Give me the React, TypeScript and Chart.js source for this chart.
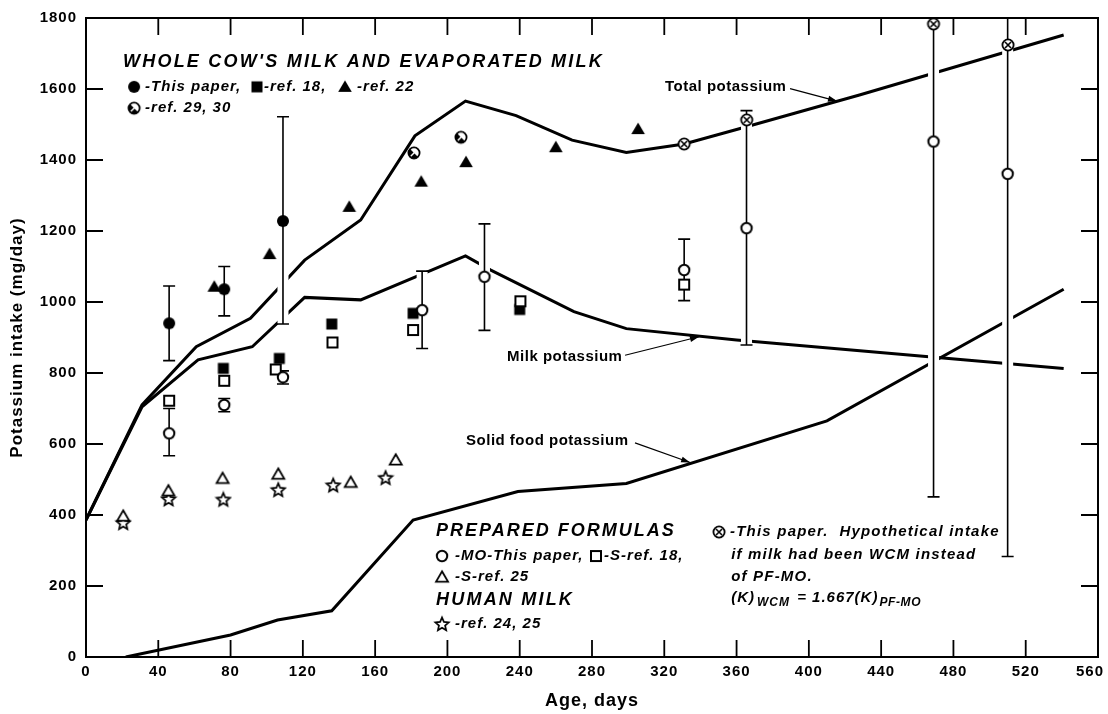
import React, { useEffect, useRef } from 'react';
import { Chart, registerables } from 'chart.js';

Chart.register(...registerables);

// ---------- axes ----------
const X_TICKS = [0, 40, 80, 120, 160, 200, 240, 280, 320, 360, 400, 440, 480, 520, 560];
const Y_TICKS = [0, 200, 400, 600, 800, 1000, 1200, 1400, 1600, 1800];

// ---------- curves ----------
const totalDays = [0, 31, 61, 91, 121, 152, 182, 210, 238, 269, 299, 331, 365, 428, 541];
const totalK = [386, 710, 874, 954, 1118, 1231, 1468, 1566, 1525, 1456, 1421, 1445, 1493, 1583, 1752];

const milkDays = [0, 31, 62, 92, 121, 152, 210, 224, 270, 299, 360, 541];
const milkK = [386, 705, 837, 874, 1013, 1006, 1130, 1090, 973, 925, 893, 813];

const solidDays = [22, 80, 106, 136, 181, 239, 299, 410, 541];
const solidK = [0, 62, 104, 130, 386, 466, 489, 665, 1036];

// ---------- whole cow's milk & evaporated milk ----------
const wcmDays = [46, 76.5, 109];
const wcmK = [940, 1036, 1228];
const wcmLow = [835, 961, 938];
const wcmHigh = [1045, 1100, 1522];

const ref18Days = [76, 107, 136, 181, 240];
const ref18K = [813, 841, 938, 968, 979];

const ref22Days = [71, 101.6, 145.7, 185.5, 210.3, 260, 305.5];
const ref22K = [1043, 1135, 1268, 1339, 1394, 1436, 1487];

const ref2930Days = [181.5, 207.5];
const ref2930K = [1420, 1464];

// ---------- prepared formulas ----------
const moDays = [46, 76.5, 109, 186, 220.5, 331, 365.5, 469, 510];
const moK = [630, 710, 788, 977, 1071, 1090, 1208, 1452, 1361];
const moLow = [567, 691, 769, 869, 920, 1004, 879, 451, 283];
const moHigh = [700, 728, 806, 1087, 1220, 1177, 1539, 2453, 2439];

const sRef18Days = [46, 76.5, 105, 136.4, 181, 240.4, 331];
const sRef18K = [722, 778, 810, 886, 921, 1002, 1049];

const sRef25Days = [20.6, 45.6, 75.6, 106.4, 146.5, 171.4];
const sRef25K = [397, 468, 503, 515, 492, 555];

// ---------- human milk ----------
const humanDays = [20.6, 45.7, 76, 106.4, 136.8, 165.8];
const humanK = [378, 445, 444, 471, 484, 505];

// ---------- hypothetical (WCM instead of PF-MO) ----------
const hypoDays = [331, 365.6, 469, 510.2];
const hypoK = [1445, 1513, 1783, 1724];

const SANS = '"Liberation Sans", Arial, Helvetica, sans-serif';
const BI = (s: number) => `italic bold ${s}px ${SANS}`;
const B = (s: number) => `bold ${s}px ${SANS}`;

type Kind = 'fcircle' | 'ocircle' | 'fsquare' | 'osquare' | 'ftri' | 'otri' | 'star' | 'cx' | 'hatch';

function makeMarker(kind: Kind): HTMLCanvasElement {
  const s = 18;
  const c = document.createElement('canvas');
  c.width = s;
  c.height = s;
  const g = c.getContext('2d')!;
  const m = s / 2;
  g.strokeStyle = '#000';
  g.fillStyle = '#000';
  g.lineWidth = 2;
  const circle = (r: number) => {
    g.beginPath();
    g.arc(m, m, r, 0, Math.PI * 2);
  };
  switch (kind) {
    case 'fcircle':
      circle(6);
      g.fill();
      break;
    case 'ocircle':
      circle(5.2);
      g.fillStyle = '#fff';
      g.fill();
      g.stroke();
      break;
    case 'fsquare':
      g.fillRect(m - 5.5, m - 5.5, 11, 11);
      break;
    case 'osquare':
      g.fillStyle = '#fff';
      g.fillRect(m - 5, m - 5, 10, 10);
      g.strokeRect(m - 5, m - 5, 10, 10);
      break;
    case 'ftri':
      g.beginPath();
      g.moveTo(m, m - 6.5);
      g.lineTo(m + 6.8, m + 5);
      g.lineTo(m - 6.8, m + 5);
      g.closePath();
      g.fill();
      break;
    case 'otri':
      g.lineWidth = 1.8;
      g.beginPath();
      g.moveTo(m, m - 5.8);
      g.lineTo(m + 6, m + 4.6);
      g.lineTo(m - 6, m + 4.6);
      g.closePath();
      g.fillStyle = '#fff';
      g.fill();
      g.stroke();
      break;
    case 'star': {
      g.lineWidth = 1.7;
      g.beginPath();
      for (let i = 0; i < 10; i++) {
        const r = i % 2 === 0 ? 7 : 3.2;
        const a = -Math.PI / 2 + (i * Math.PI) / 5;
        const px = m + r * Math.cos(a);
        const py = m + 0.5 + r * Math.sin(a);
        if (i === 0) g.moveTo(px, py);
        else g.lineTo(px, py);
      }
      g.closePath();
      g.fillStyle = '#fff';
      g.fill();
      g.stroke();
      break;
    }
    case 'cx':
      circle(5.6);
      g.fillStyle = '#fff';
      g.fill();
      g.lineWidth = 1.8;
      g.stroke();
      g.lineWidth = 1.6;
      g.beginPath();
      g.moveTo(m - 3, m - 3);
      g.lineTo(m + 3, m + 3);
      g.moveTo(m + 3, m - 3);
      g.lineTo(m - 3, m + 3);
      g.stroke();
      break;
    case 'hatch':
      circle(5.6);
      g.fillStyle = '#fff';
      g.fill();
      g.save();
      g.clip();
      g.fillStyle = '#000';
      g.beginPath();
      g.moveTo(m - 8, m - 8);
      g.lineTo(m + 8, m + 8);
      g.lineTo(m - 8, m + 8);
      g.closePath();
      g.fill();
      g.restore();
      g.strokeStyle = '#fff';
      g.lineWidth = 1.4;
      g.beginPath();
      g.moveTo(m - 3.5, m + 3.5);
      g.lineTo(m + 3.5, m - 3.5);
      g.stroke();
      g.strokeStyle = '#000';
      g.lineWidth = 1.8;
      circle(5.6);
      g.stroke();
      break;
  }
  return c;
}

const xy = (days: number[], vals: number[]) => days.map((d, i) => ({ x: d, y: vals[i] }));

function txt(ctx: any, s: string, x: number, y: number, font: string, sp: number, align: CanvasTextAlign = 'left') {
  ctx.font = font;
  ctx.letterSpacing = `${sp}px`;
  ctx.textAlign = align;
  ctx.textBaseline = 'middle';
  ctx.fillStyle = '#000';
  ctx.fillText(s, x, y);
  return ctx.measureText(s).width;
}

function arrow(ctx: CanvasRenderingContext2D, x1: number, y1: number, x2: number, y2: number) {
  ctx.save();
  ctx.strokeStyle = '#000';
  ctx.fillStyle = '#000';
  ctx.lineWidth = 1.2;
  ctx.beginPath();
  ctx.moveTo(x1, y1);
  ctx.lineTo(x2, y2);
  ctx.stroke();
  const a = Math.atan2(y2 - y1, x2 - x1);
  const L = 9;
  const W = 3;
  ctx.beginPath();
  ctx.moveTo(x2, y2);
  ctx.lineTo(x2 - L * Math.cos(a) + W * Math.sin(a), y2 - L * Math.sin(a) - W * Math.cos(a));
  ctx.lineTo(x2 - L * Math.cos(a) - W * Math.sin(a), y2 - L * Math.sin(a) + W * Math.cos(a));
  ctx.closePath();
  ctx.fill();
  ctx.restore();
}

function drawBars(chart: any, days: number[], lows: number[], highs: number[], halo: boolean) {
  const { ctx, chartArea: a, scales } = chart;
  const xs = scales.x;
  const ys = scales.y;
  ctx.save();
  ctx.beginPath();
  ctx.rect(a.left, a.top, a.right - a.left, a.bottom - a.top);
  ctx.clip();
  ctx.lineCap = 'butt';
  for (let i = 0; i < days.length; i++) {
    const px = xs.getPixelForValue(days[i]);
    const y1 = ys.getPixelForValue(lows[i]);
    const y2 = ys.getPixelForValue(highs[i]);
    if (halo) {
      ctx.strokeStyle = '#fff';
      ctx.lineWidth = 11;
      ctx.beginPath();
      ctx.moveTo(px, y1);
      ctx.lineTo(px, y2);
      ctx.stroke();
    } else {
      ctx.strokeStyle = '#000';
      ctx.lineWidth = 1.6;
      ctx.beginPath();
      ctx.moveTo(px, y1);
      ctx.lineTo(px, y2);
      for (const yy of [y1, y2]) {
        if (yy >= a.top && yy <= a.bottom) {
          ctx.moveTo(px - 6, yy);
          ctx.lineTo(px + 6, yy);
        }
      }
      ctx.stroke();
    }
  }
  ctx.restore();
}

export default function App() {
  const ref = useRef<HTMLCanvasElement>(null);

  useEffect(() => {
    const canvas = ref.current!;
    const mk: Record<Kind, HTMLCanvasElement> = {
      fcircle: makeMarker('fcircle'),
      ocircle: makeMarker('ocircle'),
      fsquare: makeMarker('fsquare'),
      osquare: makeMarker('osquare'),
      ftri: makeMarker('ftri'),
      otri: makeMarker('otri'),
      star: makeMarker('star'),
      cx: makeMarker('cx'),
      hatch: makeMarker('hatch'),
    };

    const curve = (days: number[], vals: number[], order: number, last = false) => ({
      data: xy(days, vals),
      showLine: true,
      borderColor: '#000',
      borderWidth: 3,
      pointRadius: 0,
      order,
      lastLine: last,
    });
    const pts = (days: number[], vals: number[], kind: Kind, order: number) => ({
      data: xy(days, vals),
      showLine: false,
      pointStyle: mk[kind],
      pointRadius: 6,
      order,
      clip: false,
    });

    const deco = {
      id: 'deco',
      beforeDraw(chart: any) {
        const ctx = chart.ctx;
        ctx.save();
        ctx.fillStyle = '#fff';
        ctx.fillRect(0, 0, chart.width, chart.height);
        ctx.restore();
        ctx.letterSpacing = '1px';
      },
      afterDatasetDraw(chart: any, args: any) {
        if ((chart.data.datasets[args.index] as any).lastLine) {
          drawBars(chart, wcmDays, wcmLow, wcmHigh, true);
          drawBars(chart, moDays, moLow, moHigh, true);
          drawBars(chart, wcmDays, wcmLow, wcmHigh, false);
          drawBars(chart, moDays, moLow, moHigh, false);
        }
      },
      afterDraw(chart: any) {
        const { ctx, chartArea: a, scales } = chart;
        const xs = scales.x;
        const ys = scales.y;
        const X = (d: number) => xs.getPixelForValue(d);
        const Y = (v: number) => ys.getPixelForValue(v);
        ctx.save();
        // frame
        ctx.strokeStyle = '#000';
        ctx.lineWidth = 2;
        ctx.strokeRect(a.left, a.top, a.right - a.left, a.bottom - a.top);
        // inward ticks
        ctx.lineWidth = 1.8;
        ctx.beginPath();
        for (const v of Y_TICKS.slice(1, -1)) {
          const py = Y(v);
          ctx.moveTo(a.left, py);
          ctx.lineTo(a.left + 17, py);
          ctx.moveTo(a.right, py);
          ctx.lineTo(a.right - 17, py);
        }
        for (const d of X_TICKS.slice(1, -1)) {
          const px = X(d);
          ctx.moveTo(px, a.bottom);
          ctx.lineTo(px, a.bottom - 17);
          ctx.moveTo(px, a.top);
          ctx.lineTo(px, a.top + 17);
        }
        ctx.stroke();
        // x tick labels
        for (const d of X_TICKS) {
          const s = String(d);
          ctx.font = B(15);
          ctx.letterSpacing = '1px';
          const w = ctx.measureText(s).width;
          let cx = X(d);
          if (cx + w / 2 > chart.width - 4) cx = chart.width - 4 - w / 2;
          txt(ctx, s, cx, a.bottom + 15, B(15), 1, 'center');
        }

        const icon = (k: Kind, d: number, v: number) => {
          const im = mk[k];
          ctx.drawImage(im, X(d) - im.width / 2, Y(v) - im.height / 2);
        };

        // Whole cow's milk block
        txt(ctx, "WHOLE COW'S MILK AND EVAPORATED MILK", X(20.5), Y(1676), BI(18), 2.2);
        icon('fcircle', 26.6, 1606);
        txt(ctx, '-This paper,', X(32.7), Y(1606), BI(15), 1);
        icon('fsquare', 94.6, 1606);
        txt(ctx, '-ref. 18,', X(98.5), Y(1606), BI(15), 1);
        icon('ftri', 143.3, 1606);
        txt(ctx, '-ref. 22', X(150), Y(1606), BI(15), 1);
        icon('hatch', 26.6, 1546);
        txt(ctx, '-ref. 29, 30', X(32.7), Y(1546), BI(15), 1);

        // curve labels
        txt(ctx, 'Total potassium', X(320.4), Y(1606), B(15), 0.5);
        arrow(ctx, X(389.6), Y(1601), X(415.6), Y(1566));
        txt(ctx, 'Milk potassium', X(233), Y(845), B(15), 0.5);
        arrow(ctx, X(298.3), Y(850), X(339.2), Y(902));
        txt(ctx, 'Solid food potassium', X(210.3), Y(608), B(15), 0.5);
        arrow(ctx, X(303.8), Y(603), X(334.3), Y(548));

        // prepared formulas block
        txt(ctx, 'PREPARED FORMULAS', X(193.7), Y(355), BI(18), 2);
        icon('ocircle', 197, 284.5);
        txt(ctx, '-MO-This paper,', X(204.2), Y(284.5), BI(15), 1);
        icon('osquare', 282.2, 284.5);
        txt(ctx, '-S-ref. 18,', X(286.7), Y(284.5), BI(15), 1);
        icon('otri', 197, 225);
        txt(ctx, '-S-ref. 25', X(204.2), Y(225), BI(15), 1);
        txt(ctx, 'HUMAN MILK', X(193.7), Y(160.6), BI(18), 2.2);
        icon('star', 197, 93);
        txt(ctx, '-ref. 24, 25', X(204.2), Y(93), BI(15), 1);

        // hypothetical block
        icon('cx', 350.3, 352);
        txt(ctx, '-This paper.  Hypothetical intake', X(356.4), Y(352), BI(15), 1.2);
        txt(ctx, 'if milk had been WCM instead', X(357), Y(287), BI(15), 1.2);
        txt(ctx, 'of PF-MO.', X(357), Y(225), BI(15), 1.2);
        let fx = X(357);
        const fy = Y(166);
        fx += txt(ctx, '(K)', fx, fy, BI(15), 1);
        fx += txt(ctx, 'WCM', fx + 2, fy + 5, BI(12), 1) + 4;
        fx += txt(ctx, ' = 1.667(K)', fx, fy, BI(15), 1);
        txt(ctx, 'PF-MO', fx + 1, fy + 5, BI(12), 0.6);
        ctx.restore();
      },
    };

    const chart = new Chart(canvas, {
      type: 'scatter',
      data: {
        datasets: [
          curve(totalDays, totalK, 10, true),
          curve(milkDays, milkK, 11),
          curve(solidDays, solidK, 12),
          pts(wcmDays, wcmK, 'fcircle', 5),
          pts(ref18Days, ref18K, 'fsquare', 5),
          pts(ref22Days, ref22K, 'ftri', 5),
          pts(ref2930Days, ref2930K, 'hatch', 5),
          pts(sRef18Days, sRef18K, 'osquare', 3),
          pts(sRef25Days, sRef25K, 'otri', 3),
          pts(humanDays, humanK, 'star', 3),
          pts(moDays, moK, 'ocircle', 2),
          pts(hypoDays, hypoK, 'cx', 1),
        ] as any,
      },
      options: {
        responsive: false,
        animation: false,
        events: [],
        layout: { padding: { top: 18, right: 10, bottom: 0, left: 0 } },
        plugins: { legend: { display: false }, tooltip: { enabled: false } },
        scales: {
          x: {
            type: 'linear',
            min: 0,
            max: 560,
            grid: { display: false },
            border: { display: false },
            ticks: { display: false, stepSize: 40 },
            title: {
              display: true,
              text: 'Age, days',
              color: '#000',
              font: { family: SANS, size: 18, weight: 'bold' },
              padding: { top: 0, bottom: 2 },
            },
            afterFit: (s: any) => {
              s.height = 57;
              s.paddingLeft = 0;
              s.paddingRight = 0;
            },
          },
          y: {
            type: 'linear',
            min: 0,
            max: 1800,
            grid: { display: false, drawTicks: false },
            border: { display: false },
            afterBuildTicks: (s: any) => {
              s.ticks = Y_TICKS.map((v) => ({ value: v }));
            },
            ticks: {
              stepSize: 200,
              padding: 9,
              color: '#000',
              font: { family: SANS, size: 15, weight: 'bold' },
              callback: (v: any) => String(v),
            },
            title: {
              display: true,
              text: 'Potassium intake (mg/day)',
              color: '#000',
              font: { family: SANS, size: 17, weight: 'bold' },
              padding: { top: 7, bottom: 0 },
            },
            afterFit: (s: any) => {
              s.width = 86;
            },
          },
        },
      } as any,
      plugins: [deco as any],
    });
    return () => chart.destroy();
  }, []);

  return (
    <div style={{ position: 'fixed', left: 0, top: 0, width: 1108, height: 714, background: '#fff' }}>
      <canvas ref={ref} width={1108} height={714} style={{ width: 1108, height: 714, display: 'block' }} />
    </div>
  );
}
